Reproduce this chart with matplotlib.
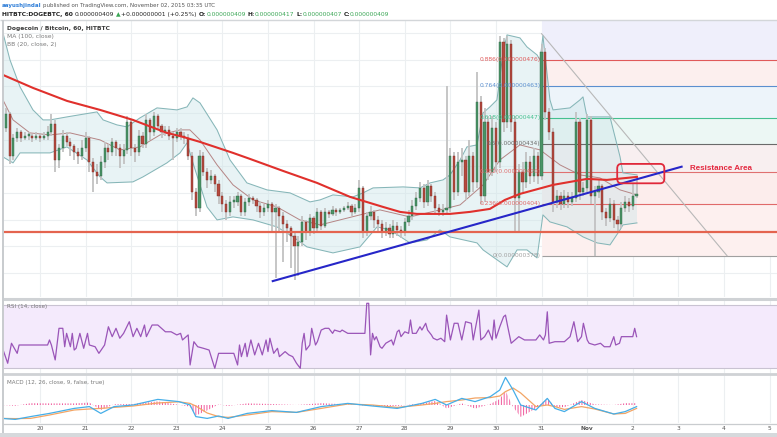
import numpy as np
import matplotlib
matplotlib.use("Agg")
import matplotlib.pyplot as plt
from matplotlib.patches import FancyBboxPatch

plt.rcParams['font.family'] = ['DejaVu Sans']
plt.rcParams['hatch.linewidth'] = 0.7

# ---------------- data (prices in 1e-9 BTC, time in hours from 2015-10-20 00:00 UTC) ----------------
first_open = 442
closes = [449, 428, 437, 440, 437, 438, 438, 437, 438, 437,
          438, 440, 444, 426, 432, 438, 435, 433, 430, 428,
          432, 437, 425, 420, 418, 425, 432, 430, 435, 432,
          428, 431, 445, 432, 430, 438, 434, 446, 440, 448,
          443, 440, 441, 438, 437, 440, 438, 437, 428, 410,
          402, 428, 420, 416, 418, 414, 408, 404, 400, 405,
          405, 408, 400, 405, 407, 406, 403, 400, 402, 404,
          400, 402, 398, 394, 392, 388, 383, 385, 395, 390,
          397, 392, 400, 393, 400, 399, 401, 400, 401, 402,
          403, 400, 402, 412, 390, 398, 400, 396, 394, 390,
          392, 389, 393, 391, 390, 395, 398, 403, 407, 412,
          405, 413, 408, 402, 400, 401, 402, 428, 410, 425,
          426, 410, 428, 415, 455, 408, 445, 420, 442, 425,
          485, 445, 484, 445, 407, 420, 415, 425, 418, 428,
          418, 480, 450, 440, 405, 408, 404, 408, 405, 407,
          445, 410, 412, 446, 408, 410, 413, 400, 397, 404,
          396, 394, 402, 405, 403, 408, 409]
highs = [452, 450, 439, 442, 441, 440, 440, 439, 440, 439,
         440, 443, 449, 446, 434, 441, 440, 437, 434, 432,
         436, 440, 438, 427, 424, 428, 435, 434, 437, 436,
         434, 434, 448, 446, 434, 441, 440, 449, 447, 450,
         449, 444, 443, 443, 440, 442, 442, 440, 439, 430,
         412, 431, 430, 422, 421, 419, 416, 410, 406, 408,
         408, 410, 409, 407, 409, 408, 407, 405, 404, 406,
         405, 404, 403, 400, 396, 393, 390, 388, 398, 396,
         399, 398, 402, 401, 402, 401, 403, 402, 402, 403,
         405, 404, 404, 416, 413, 400, 403, 401, 398, 396,
         395, 394, 396, 395, 393, 397, 401, 406, 410, 415,
         414, 416, 414, 410, 404, 404, 463, 432, 430, 430,
         432, 428, 436, 430, 470, 458, 452, 448, 448, 445,
         488, 487, 488, 486, 448, 424, 425, 430, 428, 432,
         430, 484, 482, 452, 442, 411, 410, 411, 410, 410,
         450, 447, 415, 449, 448, 413, 416, 414, 402, 407,
         406, 398, 405, 408, 407, 414, 417]
lows = [440, 424, 426, 435, 435, 436, 436, 435, 436, 435,
        436, 436, 438, 420, 422, 430, 433, 428, 426, 424,
        426, 430, 420, 410, 414, 416, 422, 426, 428, 428,
        422, 424, 429, 428, 425, 428, 432, 432, 436, 438,
        441, 437, 438, 436, 426, 435, 436, 434, 426, 406,
        398, 400, 418, 412, 414, 410, 404, 400, 396, 398,
        402, 403, 398, 398, 403, 404, 400, 397, 398, 400,
        390, 367, 390, 375, 385, 372, 366, 368, 383, 386,
        388, 389, 390, 391, 392, 397, 398, 398, 399, 400,
        401, 398, 399, 400, 387, 388, 396, 392, 390, 387,
        388, 387, 387, 388, 387, 388, 393, 396, 401, 405,
        402, 403, 405, 399, 398, 398, 399, 400, 406, 408,
        418, 406, 408, 410, 412, 404, 405, 416, 418, 420,
        422, 440, 442, 440, 390, 390, 410, 412, 414, 415,
        414, 416, 446, 436, 400, 402, 401, 402, 402, 403,
        405, 406, 408, 410, 404, 378, 407, 396, 393, 395,
        392, 390, 392, 400, 400, 401, 407]
candle_first_hour = -18
candle_step_hours = 2

ma_hours = [-19.5, -3.7, 14.2, 31.6, 48.9, 66.8, 75.3, 84.2, 101.6, 110.5, 127.9, 145.8, 163.2,
            180.5, 189.5, 198.4, 215.8, 226.3, 236.8, 244.7, 252.6, 270, 287.9, 298.4, 314.2]
ma_values = [468.4, 461.9, 455.4, 450.9, 445.9, 439.4, 437.4, 434.9, 429.4, 426.4, 420.4, 414.4, 407.4,
             402.4, 399.9, 398.9, 398.9, 399.9, 401.4, 405.9, 408.9, 413.4, 416.4, 415.9, 417.4]

bb_up_hours = [-19.5, -15.8, -10.5, -3.7, 1.6, 5.3, 14.2, 30, 33.2, 40.5, 45.8, 52.6, 61.6, 72.1, 77.4,
               80.5, 84.2, 93.2, 100, 108.9, 119.5, 131.6, 142.1, 147.4, 154.2, 164.7, 170, 175.3,
               191.1, 200, 205.3, 212.1, 215.8, 221.1, 224.7, 230, 233.2, 236.8, 240.5, 243.7, 245.8,
               252.6, 256.3, 261.6, 263.2, 264.7, 268.4, 270, 278.9, 284.2, 285.8, 287.9, 300, 305.3,
               306.8, 314.2]
bb_up = [489.4, 475.9, 462.4, 450.9, 445.9, 445.9, 447.4, 449.9, 445.9, 443.4, 442.4, 446.9, 451.9,
         450.9, 452.4, 456.9, 454.4, 440.9, 425.9, 414.4, 410.9, 409.4, 404.9, 405.9, 408.4, 407.4,
         409.4, 411.9, 412.4, 411.9, 414.4, 415.9, 418.4, 425.9, 432.4, 433.4, 449.4, 452.4, 455.9,
         479.4, 488.4, 486.9, 482.4, 478.4, 475.9, 487.9, 455.9, 450.9, 451.9, 455.9, 457.4, 447.4,
         447.4, 427.4, 419.4, 418.4]
bb_lo_hours = [-19.5, -14.2, -10.5, 5.3, 14.2, 24.7, 31.6, 35.3, 48.9, 54.2, 66.8, 73.7, 77.4, 80.5,
               87.9, 93.2, 101.6, 112.1, 124.7, 133.2, 140.5, 154.2, 168.4, 177.4, 184.2, 194.7, 203.7,
               210.5, 215.8, 230, 233.2, 245.8, 251.1, 256.3, 261.6, 264.7, 268.4, 277.4, 285.8, 293.2,
               300, 305.3, 306.8, 314.2]
bb_lo = [427.4, 424.4, 429.4, 429.4, 432.4, 425.9, 417.4, 414.4, 414.9, 417.4, 424.4, 429.4, 434.4,
         424.4, 402.4, 395.9, 397.4, 395.9, 392.4, 387.4, 382.4, 379.4, 382.4, 392.4, 390.9, 384.4,
         385.9, 390.9, 387.4, 384.4, 380.9, 372.4, 380.9, 380.9, 376.9, 398.4, 394.9, 392.4, 387.4,
         384.4, 383.4, 390.9, 393.4, 394.4]
bb_mid_hours = [-19.5, -14.2, -5.3, 5.3, 15.8, 31.6, 42.1, 52.6, 63.2, 73.7, 78.9, 84.2, 93.2, 101.6,
                112.1, 124.7, 136.8, 147.4, 157.9, 168.4, 178.9, 194.7, 210.5, 221.1, 233.2, 242.1,
                252.6, 263.2, 273.7, 284.2, 294.7, 305.3, 314.2]
bb_mid = [455.9, 445.9, 439.4, 438.4, 439.4, 435.9, 430.9, 432.4, 438.4, 440.9, 440.9, 435.9, 423.4,
          413.4, 405.9, 402.4, 395.9, 393.4, 395.9, 398.4, 400.9, 397.4, 400.9, 403.4, 413.4, 425.9,
          433.4, 430.9, 423.4, 418.4, 416.9, 410.9, 408.4]

support_price = 389.9
trend_hours = [122.5, 337.7]
trend_prices = [365.3, 422.5]

fib_levels = [0, 0.236, 0.382, 0.5, 0.618, 0.764, 0.886]
fib_prices = [378, 404, 420, 434, 447, 463, 476]
fib_high = 489
fib_start_hour = 264
fib_diag_end_hour = 361.6

resist_hours = [303.8, 328.6]
resist_prices = [414.2, 423.9]
resist_label_hour = 342.1
resist_label_price = 421.7

rsi_hours = [-20, -17, -15, -12, -11, 4, 5, 6, 8, 10,
             12, 13, 14, 16, 17, 18, 19, 21, 23, 25,
             26, 29, 31, 34, 36, 38, 40, 42, 44, 47,
             49, 51, 53, 55, 56, 59, 62, 66, 69, 72,
             74, 75, 78, 79, 81, 83, 86, 89, 92, 94,
             102, 104, 105, 106, 108, 109, 111, 113, 115, 117,
             119, 120, 121, 123, 125, 126, 129, 131, 133, 134,
             135, 137, 138, 139, 140, 142, 143, 145, 146, 148,
             150, 152, 154, 155, 158, 159, 162, 171, 172, 173,
             174, 175, 176, 177, 179, 180, 182, 185, 186, 188,
             189, 190, 192, 194, 195, 196, 198, 200, 201, 203,
             204, 206, 207, 209, 211, 213, 214, 216, 218, 220,
             222, 224, 227, 228, 231, 232, 234, 236, 238, 239,
             240, 242, 244, 245, 246, 248, 250, 252, 255, 261,
             263, 265, 266, 267, 268, 271, 276, 279, 281, 283,
             285, 286, 288, 289, 292, 295, 297, 300, 302, 303,
             305, 306, 312, 313, 314]
rsi_values = [43.5, 33.0, 45.7, 39.3, 44.6, 44.6, 47.8, 44.6, 35.1, 55.2,
              55.2, 43.5, 52.0, 43.5, 52.0, 41.4, 42.5, 52.0, 42.5, 52.0,
              44.6, 43.5, 39.3, 44.6, 56.2, 49.9, 55.2, 48.9, 52.0, 59.4,
              49.9, 55.2, 49.9, 57.3, 49.9, 57.3, 57.3, 53.0, 53.0, 51.0,
              52.0, 47.8, 51.0, 31.9, 46.7, 43.5, 42.5, 41.4, 29.8, 39.3,
              39.3, 31.9, 44.6, 37.2, 45.7, 37.2, 47.8, 38.3, 45.7, 38.3,
              47.8, 40.4, 48.9, 39.3, 42.5, 37.2, 40.4, 38.3, 37.2, 35.1,
              33.0, 29.8, 45.7, 52.0, 41.4, 44.6, 55.2, 44.6, 46.7, 54.1,
              55.2, 55.2, 52.0, 54.1, 53.0, 54.1, 52.0, 52.0, 71.1, 71.1,
              38.3, 52.0, 47.8, 49.9, 43.5, 42.5, 45.7, 47.8, 44.6, 53.0,
              54.1, 49.9, 53.0, 52.0, 60.5, 52.0, 52.0, 56.2, 54.1, 58.4,
              54.1, 51.0, 48.9, 47.8, 48.9, 46.7, 63.6, 47.8, 58.4, 58.4,
              47.8, 59.4, 58.4, 47.8, 66.8, 47.8, 49.9, 54.1, 47.8, 60.5,
              48.9, 56.2, 62.6, 63.6, 57.3, 45.7, 47.8, 49.9, 47.8, 47.8,
              51.0, 47.8, 51.0, 65.7, 45.7, 46.7, 46.7, 49.9, 59.4, 46.7,
              49.9, 58.4, 47.8, 45.7, 44.6, 45.7, 43.5, 43.5, 49.9, 44.6,
              45.7, 49.9, 49.9, 55.2, 49.9]

macd_hours = [-20, -13, -5, 5, 18, 26, 32, 39, 49, 62, 73, 79, 82, 88, 94, 99, 109, 122, 135, 148, 162,
              175, 188, 201, 208, 214, 222, 229, 237, 242, 245, 249, 253, 261, 267, 271, 276, 285, 292,
              302, 308, 314]
macd_line = [-6.7, -7.2, -5.8, -4.2, -1.7, -0.8, -4.2, -0.8, 0, 2.8, 1.7, 0, -5.8, -6.7, -5.5, -6.7,
             -4.2, -2.8, -3.7, -0.8, 0.8, -0.5, -1.7, 0.8, 2.8, 0, 3.3, 1.7, 4.2, 7.5, 13.8, 7.5, 0,
             -2.5, 3.3, -1.7, -3.3, 1.7, -1.7, -4.5, -3.3, -0.8]
macd_signal = [-6.7, -6.8, -6.7, -5.0, -2.5, -2.0, -1.7, -1.2, -0.5, 1.0, 1.6, 0.8, -0.5, -4.0, -5.8,
               -6.2, -5.0, -3.3, -3.7, -1.7, 0.5, 0.0, -1.2, 0.0, 0.8, 1.7, 2.5, 3.5, 3.7, 4.5, 6.7,
               8.5, 6.0, -0.8, 0.0, -0.8, -2.2, -0.8, -2.0, -4.5, -4.2, -1.7]

day_labels = ['20', '21', '22', '23', '24', '25', '26', '27', '28', '29', '30', '31', 'Nov', '2', '3', '4', '5']

# ---------------- layout ----------------
W, H = 777, 437
fig = plt.figure(figsize=(W / 100, H / 100), dpi=100)
fig.patch.set_facecolor('white')


def box(x0, y0, x1, y1):
    return [x0 / W, 1 - y1 / H, (x1 - x0) / W, (y1 - y0) / H]


XL = (-19.47, 387.9)
ax = fig.add_axes(box(3, 20, 777, 297))
ax_rsi = fig.add_axes(box(3, 300, 777, 373))
ax_macd = fig.add_axes(box(3, 374, 777, 423))
for a in (ax, ax_rsi, ax_macd):
    a.set_xlim(*XL)
    for s in a.spines.values():
        s.set_visible(False)
    a.set_yticks([])
    a.tick_params(axis='x', length=0)
    a.set_xticks([])
ax.set_ylim(357.35, 495.85)
ax_rsi.set_ylim(26.8, 73.2)
ax_macd.set_ylim(-9, 15.5)

grid_c = '#eceff1'
day_hours = np.arange(len(day_labels)) * 24
for a in (ax, ax_rsi, ax_macd):
    a.vlines(day_hours, *a.get_ylim(), color=grid_c, lw=0.8, zorder=0)
price_grid = np.arange(369.4, 495, 13.33)
ax.hlines(price_grid, *XL, color=grid_c, lw=0.8, zorder=0)

# ---------------- fibonacci ----------------
band_colors = ['#fdf0ef', '#fcedec', '#f8eff0', '#ecf7f4', '#edf4fa', '#fcefee', '#efeffb']
line_colors = ['#a0a0a0', '#e06a6a', '#e07070', '#6a6a6a', '#45c08f', '#5b8fcf', '#e05a5a']
bounds = fib_prices + [ax.get_ylim()[1]]
for k in range(len(fib_prices)):
    ax.fill_between([fib_start_hour, XL[1]], bounds[k], bounds[k + 1], color=band_colors[k], lw=0, zorder=0.5)
for lvl, pr, col in zip(fib_levels, fib_prices, line_colors):
    ax.hlines(pr, fib_start_hour, XL[1], color=col, lw=0.8, zorder=1.2)
    ax.text(fib_start_hour - 0.6, pr, f"{lvl:g}({pr * 1e-9:.9f})", color=col, fontsize=4.3,
            ha='right', va='center', zorder=8)
ax.plot([fib_start_hour, fib_diag_end_hour], [fib_high, fib_prices[0]], color='#b8b8b8', lw=0.8, zorder=1.3)

# ---------------- bollinger bands ----------------
poly_x = list(bb_up_hours) + list(bb_lo_hours[::-1])
poly_y = list(bb_up) + list(bb_lo[::-1])
ax.fill(poly_x, poly_y, color='#cde6ea', alpha=0.45, lw=0, zorder=1)
ax.plot(bb_up_hours, bb_up, color='#86b6b8', lw=0.75, zorder=2)
ax.plot(bb_lo_hours, bb_lo, color='#86b6b8', lw=0.75, zorder=2)
ax.plot(bb_mid_hours, bb_mid, color='#b58585', lw=0.7, zorder=2)

# ---------------- candles ----------------
c = np.array(closes, float)
o = np.array([first_open] + closes[:-1], float)
hi = np.array(highs, float)
lo = np.array(lows, float)
t = candle_first_hour + candle_step_hours * np.arange(len(c))
ax.vlines(t, lo, hi, color='#c2c2c2', lw=1.3, zorder=3)
up = c >= o
bot = np.minimum(o, c)
hgt = np.maximum(np.abs(c - o), 0.7)
ax.bar(t[up], hgt[up], bottom=bot[up], width=1.15, color='#4b9466', edgecolor='#2e6446', lw=0.3, zorder=4)
ax.bar(t[~up], hgt[~up], bottom=bot[~up], width=1.15, color='#b5493e', edgecolor='#7a2f28', lw=0.3, zorder=4)

# ---------------- overlays ----------------
ax.plot(ma_hours, ma_values, color='#e0302c', lw=1.5, zorder=5)
ax.hlines(support_price, *XL, color='#e4644f', lw=1.6, zorder=5)
ax.plot(trend_hours, trend_prices, color='#2626c8', lw=1.5, zorder=6)
rb = FancyBboxPatch((resist_hours[0], resist_prices[0]), resist_hours[1] - resist_hours[0],
                    resist_prices[1] - resist_prices[0], boxstyle='round,pad=0,rounding_size=2.2',
                    fill=False, edgecolor='#e0283a', lw=1.3, zorder=7)
ax.add_patch(rb)
ax.text(resist_label_hour, resist_label_price, 'Resistance Area', color='#e3283f', fontsize=5.8,
        fontweight='bold', family='Liberation Sans', ha='left', va='center', zorder=8)

# ---------------- RSI ----------------
ax_rsi.axhspan(30, 70, color='#f4eafc', lw=0, zorder=0.5)
ax_rsi.hlines([30, 70], *XL, color='#c9c3d2', lw=0.8, zorder=0.6)
ax_rsi.plot(rsi_hours, rsi_values, color='#9a55b8', lw=0.9, zorder=3)

# ---------------- MACD ----------------
mh = np.array(macd_hours, float)
ml = np.array(macd_line)
ms = np.array(macd_signal)
ax_macd.fill_between(mh, 0, ml - ms, facecolor='none', edgecolor='#f0579a', hatch='||||||', lw=0, zorder=2)
ax_macd.plot(mh, ms, color='#f3a565', lw=0.9, zorder=3)
ax_macd.plot(mh, ml, color='#45aee8', lw=0.9, zorder=4)
ax_macd.set_xticks(day_hours)
ax_macd.set_xticklabels(day_labels)
ax_macd.tick_params(axis='x', labelsize=4.2, colors='#555555', length=0, pad=2.2)
for lbl in ax_macd.get_xticklabels():
    if lbl.get_text() == 'Nov':
        lbl.set_fontweight('bold')

# ---------------- frame & separators ----------------
ov = fig.add_axes([0, 0, 1, 1], zorder=20)
ov.set_xlim(0, W)
ov.set_ylim(H, 0)
ov.axis('off')
ov.patch.set_alpha(0)
ov.hlines(19.5, 0, W, color='#d3d6d9', lw=1.0)
ov.hlines(298.5, 3, W, color='#cfd2d5', lw=2.2)
ov.hlines(373.5, 3, W, color='#cfd2d5', lw=2.0)
ov.hlines(423.5, 3, W, color='#c9cccf', lw=0.9)
ov.fill_between([0, W], 432.5, 437, color='#d6d9dc', lw=0)
ov.vlines(3, 19.5, 433, color='#c8cbce', lw=1.4)

# legends
ov.text(7, 28.7, 'Dogecoin / Bitcoin, 60, HITBTC', fontsize=4.3, fontweight='bold', color='#3a3a3a', va='center')
ov.text(7, 36.4, 'MA (100, close)', fontsize=4.3, color='#7a7a7a', va='center')
ov.text(7, 44.1, 'BB (20, close, 2)', fontsize=4.3, color='#7a7a7a', va='center')
ov.text(7, 306.5, 'RSI (14, close)', fontsize=4.1, color='#7a7a7a', va='center')
ov.text(7, 382.5, 'MACD (12, 26, close, 9, false, true)', fontsize=4.1, color='#7a7a7a', va='center')

# header
renderer = fig.canvas.get_renderer()


def seq(x, y, segs, size):
    for s, col, wt, gap in segs:
        tx = ov.text(x, y, s, fontsize=size, color=col, fontweight=wt, va='center', ha='left')
        bb = tx.get_window_extent(renderer)
        x = bb.x1 + gap


green = '#3aa655'
seq(2, 6, [('aayushjindal', '#2f7ed8', 'bold', 1.4),
           ('published on TradingView.com, November 02, 2015 03:35 UTC', '#555555', 'normal', 0)], 3.95)
seq(2, 14.8, [('HITBTC:DOGEBTC, 60', '#222222', 'bold', 1.8),
              ('0.000000409', '#222222', 'normal', 1.6),
              ('\u25b2', green, 'normal', 1.2),
              ('+0.000000001 (+0.25%)', '#222222', 'normal', 1.8),
              ('O:', '#222222', 'bold', 0), ('0.000000409', green, 'normal', 1.8),
              ('H:', '#222222', 'bold', 0), ('0.000000417', green, 'normal', 1.8),
              ('L:', '#222222', 'bold', 0), ('0.000000407', green, 'normal', 1.8),
              ('C:', '#222222', 'bold', 0), ('0.000000409', green, 'normal', 0)], 4.3)

fig.savefig('out.png', dpi=100)
